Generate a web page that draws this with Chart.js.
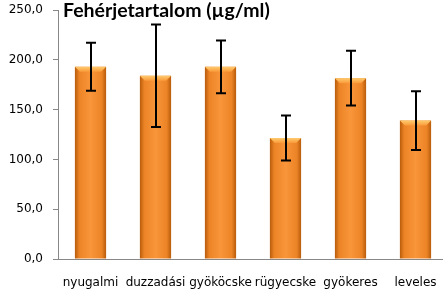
<!DOCTYPE html>
<html>
<head>
<meta charset="utf-8">
<script src="https://cdn.jsdelivr.net/npm/chart.js@4"></script>
<style>
  html, body { margin: 0; padding: 0; background: #fff; overflow: hidden; }
  #wrap { width: 450px; height: 292px; }
</style>
</head>
<body>
<div id="wrap"><canvas id="chart" width="450" height="292"></canvas></div>
<script>
const categories = ['nyugalmi', 'duzzadási', 'gyököcske', 'rügyecske', 'gyökeres', 'leveles'];
const values = [193, 184, 193, 121.5, 181.5, 139];
const errors = [24, 51.5, 26.5, 22.5, 27.5, 29.5];
const yTicks = [0, 50, 100, 150, 200, 250];
const title = 'Fehérjetartalom (µg/ml)';

// hibasávok rajzolása
const errorBars = {
  id: 'errorBars',
  afterDatasetsDraw(chart) {
    const ctx = chart.ctx;
    const x = chart.scales.x, y = chart.scales.y;
    ctx.save();
    ctx.strokeStyle = '#000';
    ctx.lineWidth = 2;
    values.forEach((v, i) => {
      const cx = Math.round(x.getPixelForValue(i));
      const top = y.getPixelForValue(v + errors[i]);
      const bot = y.getPixelForValue(v - errors[i]);
      ctx.beginPath();
      ctx.moveTo(cx, top); ctx.lineTo(cx, bot);
      ctx.moveTo(cx - 5, top); ctx.lineTo(cx + 5, top);
      ctx.moveTo(cx - 5, bot); ctx.lineTo(cx + 5, bot);
      ctx.stroke();
    });
    ctx.restore();
  }
};

// oszlopok teteje (világosabb perem)
const bevel = {
  id: 'bevel',
  afterDatasetsDraw(chart) {
    const ctx = chart.ctx;
    const meta = chart.getDatasetMeta(0);
    ctx.save();
    meta.data.forEach(bar => {
      const l = bar.x - bar.width / 2, r = bar.x + bar.width / 2, t = bar.y;
      const d = 5;
      const g = ctx.createLinearGradient(0, t, 0, t + d);
      g.addColorStop(0, '#FFCB6E');
      g.addColorStop(1, '#F99A3A');
      ctx.fillStyle = g;
      ctx.beginPath();
      ctx.moveTo(l, t); ctx.lineTo(r, t); ctx.lineTo(r - d, t + d); ctx.lineTo(l + d, t + d);
      ctx.closePath();
      ctx.fill();
    });
    ctx.restore();
  }
};

const titlePlugin = {
  id: 'titleText',
  afterDraw(chart) {
    const ctx = chart.ctx;
    ctx.save();
    ctx.font = 'bold 19.5px Lato, "Open Sans", sans-serif';
    ctx.fillStyle = '#000';
    ctx.textBaseline = 'middle';
    ctx.fillText(title, 63, 11);
    ctx.restore();
  }
};

new Chart(document.getElementById('chart'), {
  type: 'bar',
  data: {
    labels: categories,
    datasets: [{
      data: values,
      borderWidth: 0,
      backgroundColor: (c) => {
        const chart = c.chart;
        if (!chart.chartArea || !chart.scales.x) return '#F7963A';
        const xs = chart.scales.x;
        const cx = xs.getPixelForValue(c.dataIndex);
        const w = xs.width / categories.length * 0.48;
        const g = chart.ctx.createLinearGradient(cx - w / 2, 0, cx + w / 2, 0);
        g.addColorStop(0, '#B85C0C');
        g.addColorStop(0.14, '#EC8426');
        g.addColorStop(0.5, '#F9953A');
        g.addColorStop(0.86, '#EC8426');
        g.addColorStop(1, '#B85C0C');
        return g;
      },
      categoryPercentage: 1,
      barPercentage: 0.48
    }]
  },
  options: {
    responsive: false,
    animation: false,
    layout: { padding: { top: 10, right: 2, left: 0, bottom: 0 } },
    plugins: { legend: { display: false }, tooltip: { enabled: false } },
    scales: {
      x: {
        grid: { display: false },
        border: { color: '#888', width: 1 },
        afterFit: (s) => { s.height = 33; },
        ticks: {
          color: '#000',
          padding: 9,
          maxRotation: 0,
          autoSkip: false,
          font: { family: 'DejaVu Sans', size: 12 }
        }
      },
      y: {
        min: 0,
        max: 250,
        afterBuildTicks: (s) => { s.ticks = yTicks.map(v => ({ value: v })); },
        afterFit: (s) => { s.width = 58; s.paddingTop = 0; s.paddingBottom = 0; },
        grid: { drawOnChartArea: false, drawTicks: true, tickLength: 5, color: '#888' },
        border: { color: '#888', width: 1 },
        ticks: {
          color: '#000',
          padding: 10,
          font: { family: 'DejaVu Sans', size: 12 },
          callback: (v) => v.toFixed(1).replace('.', ',')
        }
      }
    }
  },
  plugins: [bevel, errorBars, titlePlugin]
});
</script>
</body>
</html>
